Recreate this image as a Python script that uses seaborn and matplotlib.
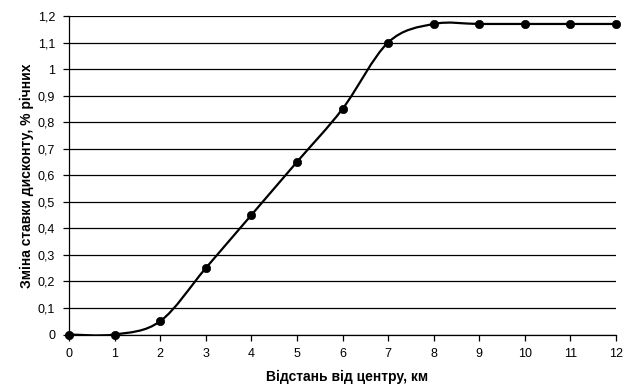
import matplotlib
matplotlib.use("Agg")
import matplotlib.pyplot as plt
from matplotlib.path import Path
from matplotlib.patches import PathPatch
import seaborn as sns
import pandas as pd
import numpy as np

# Data
distance_km = [0, 1, 2, 3, 4, 5, 6, 7, 8, 9, 10, 11, 12]
rate_change = [0, 0, 0.05, 0.25, 0.45, 0.65, 0.85, 1.1, 1.17, 1.17, 1.17, 1.17, 1.17]
y_ticks = [0, 0.1, 0.2, 0.3, 0.4, 0.5, 0.6, 0.7, 0.8, 0.9, 1.0, 1.1, 1.2]
y_tick_labels = ["0", "0,1", "0,2", "0,3", "0,4", "0,5", "0,6", "0,7", "0,8", "0,9", "1", "1,1", "1,2"]
x_ticks = list(range(0, 13))
x_label = "Відстань від центру, км"
y_label = "Зміна ставки дисконту, % річних"

sns.set_theme(style="white")
plt.rcParams["font.family"] = ["Liberation Sans", "DejaVu Sans"]

df = pd.DataFrame({"x": distance_km, "y": rate_change})

fig = plt.figure(figsize=(6.34, 3.89), dpi=100)
ax = fig.add_axes([69 / 634, 1 - 334.5 / 389, (616 - 69) / 634, (334.5 - 16) / 389])

# horizontal gridlines
for t in y_ticks:
    ax.axhline(t, color="black", lw=0.9, zorder=1)

# smoothed line (Excel-style Bezier through the data points)
pts = np.column_stack([distance_km, rate_change]).astype(float)
n = len(pts)
verts = [pts[0]]
codes = [Path.MOVETO]
for i in range(n - 1):
    p0 = pts[i - 1] if i > 0 else pts[i]
    p1 = pts[i]
    p2 = pts[i + 1]
    p3 = pts[i + 2] if i + 2 < n else pts[i + 1]
    c1 = p1 + (p2 - p0) / 6.0
    c2 = p2 - (p3 - p1) / 6.0
    verts += [c1, c2, p2]
    codes += [Path.CURVE4] * 3
patch = PathPatch(Path(verts, codes), facecolor="none", edgecolor="black", lw=1.6, zorder=3)
ax.add_patch(patch)

sns.scatterplot(data=df, x="x", y="y", ax=ax, color="black", s=36, edgecolor="black",
                linewidth=0.5, zorder=4, clip_on=False, legend=False)

ax.set_xlim(0, 12)
ax.set_ylim(0, 1.2)
ax.set_xticks(x_ticks)
ax.set_xticklabels([str(v) for v in x_ticks])
ax.set_yticks(y_ticks)
ax.set_yticklabels(y_tick_labels)

for s in ["top", "right"]:
    ax.spines[s].set_visible(False)
for s in ["left", "bottom"]:
    ax.spines[s].set_color("black")
    ax.spines[s].set_linewidth(0.9)

ax.tick_params(axis="both", which="major", direction="out", length=4, width=0.9,
               color="black", labelsize=9, labelcolor="black", pad=6,
               bottom=True, left=True)

ax.set_xlabel(x_label, fontsize=10, fontweight="bold", color="black")
ax.set_ylabel(y_label, fontsize=10, fontweight="bold", color="black")
ax.xaxis.set_label_coords((347 - 69) / 547, (334.5 - 370) / 318.5)
ax.yaxis.set_label_coords((34 - 69) / 547, 0.5)

fig.savefig("out.png", dpi=100, facecolor="white")
